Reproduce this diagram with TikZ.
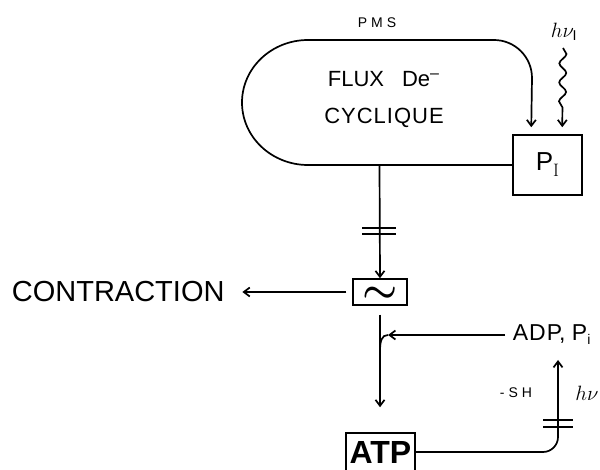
\documentclass[tikz,border=0pt]{standalone}
\usepackage{fontspec}
\setmainfont{Liberation Sans}
\newfontfamily\serifI{Latin Modern Roman}
\usetikzlibrary{arrows.meta,decorations.pathmorphing}
\begin{document}
\begin{tikzpicture}[x=1pt,y=-1pt,line width=1.7pt,
  >={Straight Barb[length=6pt,width=9pt]},
  box/.style={draw,line width=1.5pt,inner sep=0pt},
  lbl/.style={inner sep=0pt},
  bar/.style={line width=1.4pt}]
\useasboundingbox (0,0) rectangle (600,470);
% nodes
\node[box,minimum width=69pt,minimum height=60pt] (PI) at (547.5,165)
  {\fontsize{26}{26}\selectfont P\raisebox{-6pt}{\serifI\fontsize{18}{18}\selectfont I}};
\node[box,minimum width=54pt,minimum height=26pt] (wave) at (380,292)
  {\smash{\raisebox{-10pt}{\scalebox{1.9}{\fontsize{20}{20}\selectfont\boldmath$\sim$}}}};
\node[box,minimum width=69pt,minimum height=38pt] (ATP) at (380.5,452)
  {\fontsize{32}{32}\selectfont\bfseries ATP};
\node[lbl,anchor=base west] (contr) at (11,302)
  {\fontsize{29}{29}\selectfont CONTRACTION};
\node[lbl,anchor=base west] (ADP) at (512,341)
  {\fontsize{23}{23}\selectfont A\hspace{1pt}D\hspace{1pt}P, P\raisebox{-4pt}{\fontsize{14}{14}\selectfont i}};
\node[lbl,anchor=base] (pms) at (377,28)
  {\fontsize{14}{14}\selectfont P\hspace{4pt}M\hspace{4pt}S};
\node[lbl,anchor=base west] (flux) at (327,87)
  {\fontsize{22}{22}\selectfont FLUX\hspace{18pt}De\raisebox{8pt}{\fontsize{16}{16}\selectfont\textendash}};
\node[lbl] (cyc) at (384,118)
  {\fontsize{22}{22}\selectfont C\hspace{1pt}Y\hspace{1pt}C\hspace{1pt}L\hspace{1pt}I\hspace{1pt}Q\hspace{1pt}U\hspace{1pt}E};
\node[lbl] (hnuI) at (564,32) {\scalebox{1.2}{\fontsize{17}{17}\selectfont$h\nu_{\mathrm{I}}$}};
\node[lbl] (sh) at (516,393) {\fontsize{14}{14}\selectfont -\hspace{4pt}S\hspace{4pt}H};
\node[lbl] (hnu) at (587,393) {\scalebox{1.2}{\fontsize{17}{17}\selectfont$h\nu$}};
% coordinates
\coordinate (lb) at (379.5,165);
\coordinate (w0) at (563,48);
\coordinate (adpin) at (505,335);
\coordinate (m1) at (388,335);
\coordinate (m2) at (380,352);
\coordinate (adpout) at (558,360);
% cyclic loop
\draw[->] (PI.west) -- (308,165)
  .. controls (271.5,165) and (242,137) .. (242,102.5)
  .. controls (242,68) and (271.5,40) .. (308,40)
  -- (494,40) .. controls (515,40) and (532,57) .. (532,78)
  -- ([xshift=19pt,yshift=7pt]PI.north west);
% light on PI
\draw[->,decorate,decoration={snake,amplitude=3.5pt,segment length=19pt,post length=12pt}]
  (w0) -- ([xshift=50pt,yshift=7pt]PI.north west);
% loop to wave
\draw[->] (lb) -- (wave.north);
\draw[bar] (362,228) -- (396,228);
\draw[bar] (362,234) -- (396,234);
% contraction
\draw[->,shorten <=6pt,shorten >=17pt] (wave.west) -- (contr.east |- wave.west);
% wave to ATP
\draw[->,shorten <=9pt,shorten >=25pt] (wave.south) -- (ATP.north -| wave.south);
% ADP merge
\draw[->] (adpin) -- (m1);
\draw (m1) .. controls (381.5,335) and (380,341) .. (m2);
% ATP to ADP
\draw[->,rounded corners=15pt] (ATP.east) -- (ATP.east -| adpout) -- (adpout);
\draw[bar] (543,420) -- (573,420);
\draw[bar] (543,427) -- (573,427);
\end{tikzpicture}
\end{document}
